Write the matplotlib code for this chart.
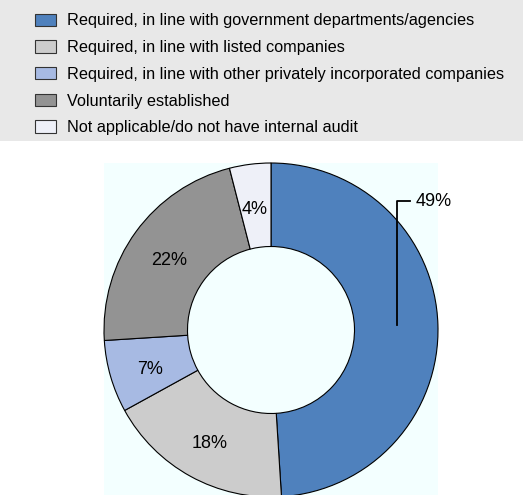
import numpy as np
import matplotlib.pyplot as plt
from matplotlib.patches import Rectangle, Patch

plt.rcParams['font.family'] = ['Liberation Sans', 'DejaVu Sans']

categories = [
    "Required, in line with government departments/agencies",
    "Required, in line with listed companies",
    "Required, in line with other privately incorporated companies",
    "Voluntarily established",
    "Not applicable/do not have internal audit",
]
shares = [49, 18, 7, 22, 4]
colors = ["#4f81bd", "#cccccc", "#a7bae3", "#939393", "#eef0f8"]

W, H = 523, 495
fig = plt.figure(figsize=(W / 100, H / 100), dpi=100)

# grey band behind the legend
fig.patches.append(Rectangle((0, 1 - 141 / H), 1, 141 / H, transform=fig.transFigure,
                             facecolor="#e8e8e8", edgecolor="none", zorder=0))

handles = [Patch(facecolor=c, edgecolor="#333333", linewidth=0.8) for c in colors]
fig.legend(handles, categories, loc="upper left", bbox_to_anchor=(22 / W, 1 - 0.5 / H),
           frameon=False, fontsize=11.7, handlelength=1.3, handleheight=0.8,
           handletextpad=0.66, labelspacing=0.72, borderpad=0.3)

# donut, radius 167 px, centre at (271, 330) px from top-left
r_px = 167
cx, cy = 271, 330
ax = fig.add_axes([(cx - r_px) / W, (H - cy - r_px) / H, 2 * r_px / W, 2 * r_px / H])
wedges, _ = ax.pie(shares, colors=colors, startangle=90, counterclock=False,
                   radius=1.0, wedgeprops=dict(width=0.5, edgecolor="black", linewidth=0.8))
ax.set_xlim(-1, 1)
ax.set_ylim(-1, 1)
ax.set_aspect("equal")
ax.set_frame_on(True)
ax.patch.set_facecolor("#f3ffff")
for s in ax.spines.values():
    s.set_visible(False)
ax.set_xticks([])
ax.set_yticks([])

# percentage labels in the middle of the ring
start = 90.0
for i, (w, v) in enumerate(zip(wedges, shares)):
    mid = np.deg2rad(start - v * 3.6 / 2)
    start -= v * 3.6
    if i == 0:
        continue
    rr = 0.75
    ax.text(rr * np.cos(mid) - 0.005, rr * np.sin(mid) - 0.025, f"{v}%", ha="center",
            va="center", fontsize=13)

# leader line for the largest slice
x0 = 0.755
ax.plot([x0, x0, x0 + 0.08], [0.03, 0.77, 0.77], color="black", lw=1.3, clip_on=False)
ax.text(x0 + 0.11, 0.77, f"{shares[0]}%", ha="left", va="center", fontsize=13)

fig.savefig("out.png", dpi=100)
